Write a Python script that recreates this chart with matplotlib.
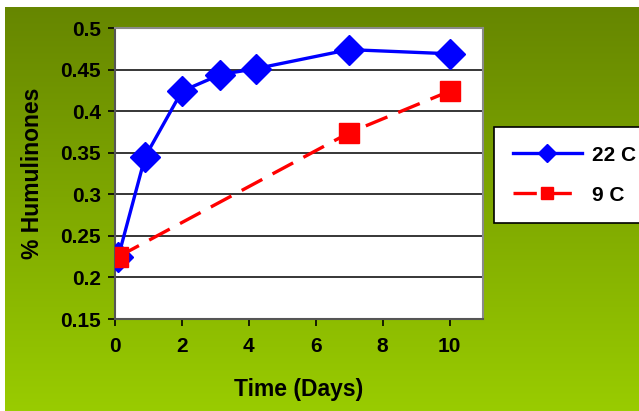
import numpy as np
import matplotlib
matplotlib.use("Agg")
import matplotlib.pyplot as plt
from matplotlib.ticker import FuncFormatter

plt.rcParams['font.family'] = ['Liberation Sans', 'DejaVu Sans']

# Data
days_22 = [0.1, 0.9, 2.0, 3.15, 4.2, 7.0, 10.0]
hum_22 = [0.225, 0.345, 0.424, 0.444, 0.451, 0.474, 0.469]
days_9 = [0.1, 7.0, 10.0]
hum_9 = [0.225, 0.374, 0.424]
x_ticks = [0, 2, 4, 6, 8, 10]
y_ticks = [0.15, 0.2, 0.25, 0.3, 0.35, 0.4, 0.45, 0.5]

W, H = 639, 411
fig = plt.figure(figsize=(W / 100, H / 100), dpi=100)
fig.patch.set_facecolor('white')

# green gradient backdrop
bg = fig.add_axes([5 / W, 0, 1 - 5 / W, 1 - 7 / H])
top = np.array([0x66, 0x86, 0x00]) / 255
bot = np.array([0x99, 0xcc, 0x00]) / 255
t = np.linspace(0, 1, 256)[:, None]
grad = top[None, :] * (1 - t) + bot[None, :] * t
bg.imshow(grad[:, None, :], aspect='auto', extent=[0, 1, 0, 1])
bg.set_axis_off()

ax = fig.add_axes([115 / W, 1 - 319 / H, (483 - 115) / W, (319 - 28) / H])
ax.set_facecolor('white')
ax.set_xlim(0, 11)
ax.set_ylim(0.15, 0.5)
ax.set_xticks(x_ticks)
ax.set_yticks(y_ticks)
ax.yaxis.set_major_formatter(FuncFormatter(lambda v, p: f"{v:g}"))
ax.grid(axis='y', color='black', linewidth=1.1)
ax.set_axisbelow(True)

for s in ['top', 'right']:
    ax.spines[s].set_color('#8a8a8a')
    ax.spines[s].set_linewidth(1.5)
for s in ['left', 'bottom']:
    ax.spines[s].set_color('#555555')
    ax.spines[s].set_linewidth(1.5)

ax.tick_params(direction='out', length=5, width=1.2, color='black',
               labelsize=15, pad=5)
ax.tick_params(axis='x', pad=8)
for lab in ax.get_xticklabels() + ax.get_yticklabels():
    lab.set_fontweight('bold')

ax.plot(days_22, hum_22, color='#0000ff', linewidth=2.4, marker='D',
        markersize=15, label='22 C', zorder=3)
ax.plot(days_9, hum_9, color='#ff0000', linewidth=2.4, linestyle=(0, (7, 3.5)),
        marker='s', markersize=15, label='9 C', zorder=4)

ax.set_xlabel('Time (Days)', fontsize=16.5, fontweight='bold', labelpad=16)
ax.set_ylabel('% Humulinones', fontsize=16.5, fontweight='bold', labelpad=12)

leg = fig.legend(handles=ax.get_lines(), labels=['22 C', '9 C'],
                 loc='upper left', bbox_to_anchor=(494 / W, 1 - 127 / H),
                 bbox_transform=fig.transFigure,
                 prop={'weight': 'bold', 'size': 15},
                 frameon=True, fancybox=False, edgecolor='black',
                 facecolor='white', framealpha=1,
                 markerscale=0.6, handlelength=3.3, labelspacing=1.0,
                 borderpad=0.9, handletextpad=0.5, borderaxespad=0)
leg.get_frame().set_linewidth(1.2)

fig.savefig('out.png', dpi=100)
